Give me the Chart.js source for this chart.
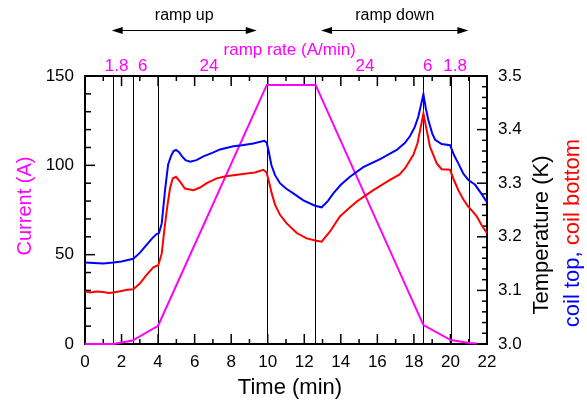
<!DOCTYPE html>
<html><head><meta charset="utf-8">
<script src="https://cdn.jsdelivr.net/npm/chart.js@4.4.0/dist/chart.umd.min.js"></script>
<style>html,body{margin:0;padding:0;background:#fff;}#wrap{width:587px;height:402px;}</style>
</head><body><div id="wrap"><canvas id="c" width="587" height="402"></canvas></div>
<script>
// ---- data ----
const currentTime = [0, 1.55, 2.6, 4.0, 9.95, 12.62, 18.52, 20.02, 21.04, 21.44];
const currentAmps = [0, 0, 1.9, 10.2, 145, 145, 10.6, 2.2, 0.6, 0.3];

const topTime = [0,0.5,1.0,1.55,2.0, 2.64,3.0,3.37,3.7,3.92, 4.05,4.2,4.38,4.55,4.7, 4.85,4.98,5.15,5.29,5.5,
  5.75,6.1,6.48,7.0,7.39, 8.12,8.6,9.21,9.81,9.94, 10.05,10.2,10.4,10.67,11.0, 11.4,11.95,12.59,12.95,13.3,
  13.59,14.0,14.5,15.23,16.15, 17.06,17.5,17.79,18.05,18.24, 18.4,18.52,18.65,18.79,19.0, 19.16,19.52,19.98,20.2,20.43,
  20.7,20.98,21.35,21.7,21.99];
const topTemp = [3.152,3.151,3.150,3.152,3.154, 3.159,3.170,3.185,3.198,3.205, 3.207,3.225,3.287,3.335,3.350, 3.360,3.362,3.358,3.351,3.343,
  3.340,3.343,3.350,3.357,3.363, 3.369,3.371,3.374,3.379,3.376, 3.36,3.334,3.315,3.300,3.29, 3.281,3.268,3.258,3.255,3.267,
  3.281,3.297,3.312,3.330,3.345, 3.362,3.375,3.388,3.405,3.424, 3.448,3.466,3.44,3.418,3.393, 3.381,3.373,3.371,3.352,3.337,
  3.318,3.306,3.297,3.28,3.265];

const bottomTime = [0,0.3,0.6,1.0,1.3, 1.55,2.0,2.3,2.64,3.01, 3.37,3.74,4.01,4.2,4.35, 4.5,4.65,4.8,4.98,5.2,
  5.47,5.93,6.3,6.66,7.21, 7.7,8.12,8.85,9.3,9.76, 9.94,10.05,10.22,10.4,10.67, 11.04,11.59,12.13,12.6,12.95,
  13.41,13.95,14.4,14.87,15.3, 15.78,16.69,17.2,17.52,17.97, 18.2,18.34,18.52,18.7,18.88, 19.25,19.52,19.98,20.2,20.43,
  20.7,20.98,21.2,21.44,21.7, 21.99];
const bottomTemp = [3.098,3.096,3.098,3.097,3.095, 3.096,3.099,3.101,3.102,3.113, 3.129,3.143,3.147,3.169,3.215, 3.256,3.29,3.309,3.312,3.303,
  3.29,3.287,3.292,3.300,3.309, 3.313,3.315,3.318,3.320,3.325, 3.320,3.305,3.281,3.26,3.241, 3.225,3.207,3.197,3.193,3.191,
  3.210,3.238,3.252,3.266,3.276, 3.287,3.306,3.316,3.328,3.353, 3.375,3.399,3.430,3.399,3.368, 3.337,3.326,3.325,3.305,3.287,
  3.27,3.256,3.248,3.238,3.222, 3.207];

const stepTimes = [1.55, 2.6, 4.0, 9.95, 12.6, 18.52, 20.02, 21.04];
const rateLabels = ['1.8', '6', '24', '24', '6', '1.8'];
const rateLabelTimes = [1.73, 3.16, 6.79, 15.32, 18.76, 20.25];
const rampLabels = ['ramp up', 'ramp down'];
const rampStart = [1.46, 12.92];
const rampEnd = [9.4, 20.98];

const FONT = '"Liberation Sans", Arial, Helvetica, sans-serif';
const MAG = '#ff00ff';

function pts(xs, ys){ return xs.map((v,i)=>({x:v, y:ys[i]})); }

const deco = {
  id: 'deco',
  beforeDatasetsDraw(chart){
    const {ctx, chartArea:a, scales:{x, yL, yR}} = chart;
    ctx.save();
    ctx.strokeStyle = '#000'; ctx.lineWidth = 1;
    stepTimes.forEach(t => {
      const px = Math.round(x.getPixelForValue(t)) + 0.5;
      ctx.beginPath(); ctx.moveTo(px, a.top); ctx.lineTo(px, a.bottom); ctx.stroke();
    });
    // ticks (inward)
    ctx.lineWidth = 1.5;
    for (let t = 0; t <= 22; t++) {
      const px = x.getPixelForValue(t), len = t % 2 === 0 ? 10 : 5;
      ctx.beginPath(); ctx.moveTo(px, a.bottom); ctx.lineTo(px, a.bottom - len); ctx.stroke();
      ctx.beginPath(); ctx.moveTo(px, a.top); ctx.lineTo(px, a.top + len); ctx.stroke();
    }
    for (let v = 0; v <= 150; v += 10) {
      const py = yL.getPixelForValue(v), len = v % 50 === 0 ? 10 : 6;
      ctx.beginPath(); ctx.moveTo(a.left, py); ctx.lineTo(a.left + len, py); ctx.stroke();
    }
    for (let k = 0; k <= 25; k++) {
      const py = yR.getPixelForValue(3 + k * 0.02), len = k % 5 === 0 ? 10 : 5;
      ctx.beginPath(); ctx.moveTo(a.right, py); ctx.lineTo(a.right - len, py); ctx.stroke();
    }
    // frame
    ctx.lineWidth = 2;
    ctx.strokeRect(a.left, a.top, a.right - a.left, a.bottom - a.top);
    ctx.restore();
  },
  afterDatasetsDraw(chart){
    const {ctx, chartArea:a, scales:{x}} = chart;
    ctx.save();
    // ramp arrows + labels
    ctx.fillStyle = '#000'; ctx.strokeStyle = '#000'; ctx.lineWidth = 1;
    ctx.font = '16px ' + FONT; ctx.textAlign = 'center'; ctx.textBaseline = 'alphabetic';
    const ay = 30.5;
    rampLabels.forEach((lab, i) => {
      const x1 = x.getPixelForValue(rampStart[i]), x2 = x.getPixelForValue(rampEnd[i]);
      ctx.beginPath(); ctx.moveTo(x1 + 4, ay); ctx.lineTo(x2 - 4, ay); ctx.stroke();
      ctx.beginPath(); ctx.moveTo(x1, ay); ctx.lineTo(x1 + 11, ay - 3.5); ctx.lineTo(x1 + 11, ay + 3.5); ctx.closePath(); ctx.fill();
      ctx.beginPath(); ctx.moveTo(x2, ay); ctx.lineTo(x2 - 11, ay - 3.5); ctx.lineTo(x2 - 11, ay + 3.5); ctx.closePath(); ctx.fill();
      ctx.fillText(lab, (x1 + x2) / 2, 20);
    });
    // ramp rate labels
    ctx.fillStyle = MAG; ctx.font = '17px ' + FONT;
    ctx.fillText('ramp rate (A/min)', x.getPixelForValue(11.2), 55);
    rateLabels.forEach((lab, i) => ctx.fillText(lab, x.getPixelForValue(rateLabelTimes[i]), 71));

    // axis titles
    ctx.textBaseline = 'middle';
    ctx.fillStyle = '#000'; ctx.font = '22px ' + FONT;
    ctx.fillText('Time (min)', (a.left + a.right) / 2 + 4, 388);

    ctx.save();
    ctx.translate(25, (a.top + a.bottom) / 2 - 4); ctx.rotate(-Math.PI / 2);
    ctx.fillStyle = MAG; ctx.font = '20px ' + FONT;
    ctx.fillText('Current (A)', 0, 0);
    ctx.restore();

    ctx.save();
    ctx.translate(542, (a.top + a.bottom) / 2 + 25); ctx.rotate(-Math.PI / 2);
    ctx.fillStyle = '#000'; ctx.font = '22px ' + FONT;
    ctx.fillText('Temperature (K)', 0, 0);
    ctx.restore();

    ctx.save();
    ctx.translate(573, (a.top + a.bottom) / 2 + 23); ctx.rotate(-Math.PI / 2);
    ctx.font = '22px ' + FONT; ctx.textAlign = 'left';
    const p1 = 'coil top, ', p2 = 'coil bottom';
    const w1 = ctx.measureText(p1).width, w2 = ctx.measureText(p2).width;
    const sx = -(w1 + w2) / 2;
    ctx.fillStyle = '#0000ff'; ctx.fillText(p1, sx, 0);
    ctx.fillStyle = '#ff0000'; ctx.fillText(p2, sx + w1, 0);
    ctx.restore();

    ctx.restore();
  }
};

new Chart(document.getElementById('c'), {
  type: 'line',
  data: {
    datasets: [
      { label: 'coil bottom', data: pts(bottomTime, bottomTemp), yAxisID: 'yR', borderColor: '#ff0000', borderWidth: 2, pointRadius: 0, tension: 0 },
      { label: 'coil top', data: pts(topTime, topTemp), yAxisID: 'yR', borderColor: '#0000ff', borderWidth: 2, pointRadius: 0, tension: 0 },
      { label: 'current', data: pts(currentTime, currentAmps), yAxisID: 'yL', borderColor: MAG, borderWidth: 2, pointRadius: 0, tension: 0, clip: 3 }
    ]
  },
  options: {
    responsive: false, animation: false, devicePixelRatio: 1,
    layout: { padding: { top: 76, left: 0, right: 0, bottom: 0 } },
    plugins: { legend: { display: false }, tooltip: { enabled: false } },
    scales: {
      x: {
        type: 'linear', position: 'bottom', min: 0, max: 22,
        ticks: { stepSize: 2, color: '#000', font: { family: FONT, size: 17 }, padding: 8, maxRotation: 0 },
        grid: { display: false, drawTicks: false, tickLength: 0 }, border: { display: false },
        afterFit: s => { s.height = 58; }
      },
      yL: {
        type: 'linear', position: 'left', min: 0, max: 150,
        ticks: { stepSize: 50, color: '#000', font: { family: FONT, size: 17 }, padding: 11 },
        grid: { display: false, drawTicks: false, tickLength: 0 }, border: { display: false },
        afterFit: s => { s.width = 85; }
      },
      yR: {
        type: 'linear', position: 'right', min: 3.0, max: 3.5,
        ticks: { stepSize: 0.1, color: '#000', font: { family: FONT, size: 17 }, padding: 11, callback: v => Number(v).toFixed(1) },
        grid: { display: false, drawTicks: false, tickLength: 0 }, border: { display: false },
        afterFit: s => { s.width = 100; }
      }
    }
  },
  plugins: [deco]
});
</script>
</body></html>
